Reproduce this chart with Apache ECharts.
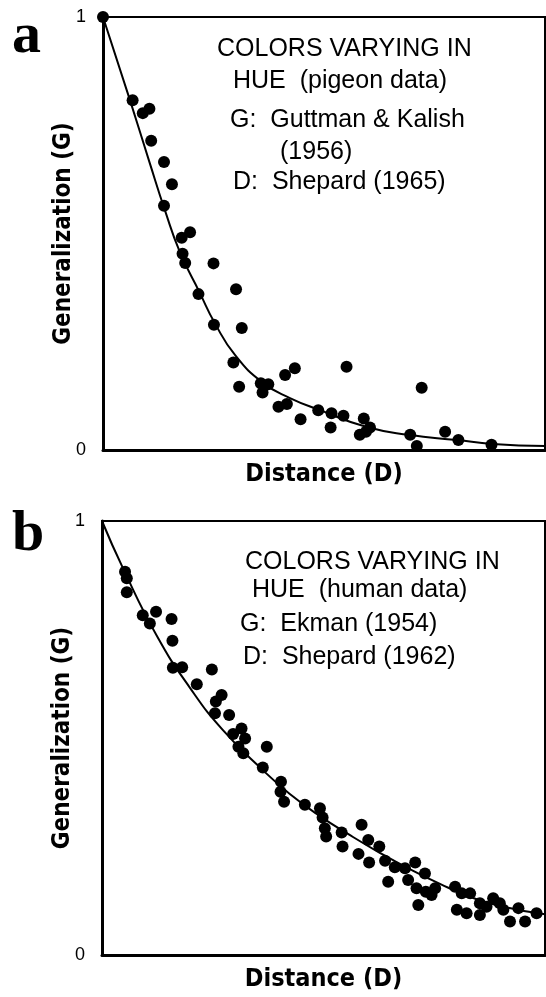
<!DOCTYPE html>
<html>
<head>
<meta charset="utf-8">
<script src="https://cdn.jsdelivr.net/npm/echarts@6.0.0/dist/echarts.min.js"></script>
<style>
  html, body { margin: 0; padding: 0; background: #fff; }
  #chart { width: 546px; height: 997px; }
</style>
</head>
<body>
<div id="chart"></div>
<script>
// panel a: pigeon data (Guttman & Kalish 1956)
const aDist = [0, 0.067, 0.090, 0.105, 0.109, 0.138, 0.156, 0.138, 0.178, 0.197, 0.180, 0.186, 0.250, 0.216, 0.301, 0.251, 0.314, 0.295, 0.308, 0.357, 0.374, 0.361, 0.412, 0.434, 0.397, 0.416, 0.447, 0.487, 0.517, 0.515, 0.544, 0.551, 0.590, 0.604, 0.581, 0.595, 0.695, 0.710, 0.721, 0.774, 0.804, 0.879];
const aGen = [1.0, 0.808, 0.778, 0.788, 0.714, 0.665, 0.614, 0.564, 0.490, 0.503, 0.453, 0.432, 0.431, 0.360, 0.371, 0.289, 0.282, 0.202, 0.146, 0.154, 0.152, 0.133, 0.173, 0.189, 0.100, 0.106, 0.071, 0.092, 0.085, 0.052, 0.079, 0.192, 0.073, 0.052, 0.035, 0.042, 0.035, 0.009, 0.144, 0.042, 0.023, 0.012];
// fitted curve a
const aCurveDist = [0, 0.061, 0.106, 0.140, 0.174, 0.219, 0.253, 0.299, 0.362, 0.423, 0.491, 0.597, 0.692, 0.801, 0.882, 1.0];
const aCurveGen = [1.0, 0.808, 0.662, 0.554, 0.457, 0.363, 0.293, 0.219, 0.155, 0.120, 0.092, 0.053, 0.035, 0.023, 0.014, 0.009];

// panel b: human data (Ekman 1954)
const bDist = [0.052, 0.056, 0.056, 0.092, 0.122, 0.108, 0.157, 0.159, 0.160, 0.181, 0.248, 0.214, 0.257, 0.270, 0.255, 0.287, 0.315, 0.296, 0.323, 0.308, 0.372, 0.319, 0.363, 0.404, 0.403, 0.411, 0.458, 0.492, 0.498, 0.503, 0.506, 0.541, 0.543, 0.586, 0.601, 0.626, 0.579, 0.603, 0.639, 0.661, 0.646, 0.684, 0.707, 0.729, 0.691, 0.710, 0.731, 0.752, 0.744, 0.714, 0.797, 0.812, 0.831, 0.801, 0.823, 0.853, 0.853, 0.883, 0.898, 0.906, 0.921, 0.940, 0.955, 0.981, 0.868];
const bGen = [0.883, 0.868, 0.836, 0.783, 0.791, 0.764, 0.774, 0.724, 0.662, 0.663, 0.658, 0.624, 0.584, 0.599, 0.557, 0.553, 0.522, 0.509, 0.499, 0.480, 0.480, 0.465, 0.432, 0.399, 0.376, 0.353, 0.346, 0.338, 0.317, 0.292, 0.273, 0.282, 0.250, 0.300, 0.265, 0.250, 0.233, 0.213, 0.217, 0.202, 0.169, 0.200, 0.213, 0.188, 0.173, 0.154, 0.146, 0.154, 0.138, 0.115, 0.157, 0.142, 0.142, 0.104, 0.096, 0.119, 0.092, 0.131, 0.119, 0.104, 0.077, 0.108, 0.077, 0.096, 0.111];
const bCurveDist = [0, 0.047, 0.124, 0.199, 0.273, 0.363, 0.424, 0.492, 0.560, 0.628, 0.695, 0.763, 0.831, 0.898, 1.0];
const bCurveGen = [1.0, 0.892, 0.735, 0.615, 0.518, 0.426, 0.371, 0.320, 0.276, 0.235, 0.198, 0.164, 0.134, 0.113, 0.094];

const yTicks = ['0', '1'];
const notesA = ['COLORS VARYING IN', 'HUE  (pigeon data)', 'G:  Guttman & Kalish', '(1956)', 'D:  Shepard (1965)'];
const notesB = ['COLORS VARYING IN', 'HUE  (human data)', 'G:  Ekman (1954)', 'D:  Shepard (1962)'];

const zip = (xs, ys) => xs.map((x, i) => [x, ys[i]]);

const axisFont = 'DejaVu Sans Condensed';
const noteFont = 'Liberation Sans';

function xAx(idx) {
  return {
    type: 'value', gridIndex: idx, min: 0, max: 1,
    axisLine: { show: true, lineStyle: { color: '#000', width: 3 } },
    axisTick: { show: false }, axisLabel: { show: false }, splitLine: { show: false },
    name: 'Distance (D)', nameLocation: 'middle', nameGap: 12,
    nameTextStyle: { fontFamily: axisFont, fontWeight: 'bold', fontSize: 25, color: '#000', verticalAlign: 'top' }
  };
}
function yAx(idx) {
  return {
    type: 'value', gridIndex: idx, min: 0, max: 1, interval: 1,
    axisLine: { show: true, lineStyle: { color: '#000', width: 3 } },
    axisTick: { show: false }, splitLine: { show: false },
    axisLabel: { color: '#000', fontSize: 18, fontFamily: noteFont, margin: 17,
      formatter: v => yTicks[v] },
    name: 'Generalization (G)', nameLocation: 'middle', nameGap: 27, nameMoveOverlap: false,
    nameTextStyle: { fontFamily: axisFont, fontWeight: 'bold', fontSize: 24, color: '#000' }
  };
}

function noteTexts(lines, xs, ys) {
  return lines.map((t, i) => ({
    type: 'text', left: xs[i], top: ys[i],
    style: { text: t, font: '25px ' + noteFont, fill: '#000', textVerticalAlign: 'middle' }
  }));
}

const chart = echarts.init(document.getElementById('chart'));
chart.setOption({
  animation: false,
  backgroundColor: '#fff',
  grid: [
    { left: 103, top: 17, width: 442, height: 433, show: true, borderColor: '#000', borderWidth: 2 },
    { left: 102, top: 521, width: 443, height: 434, show: true, borderColor: '#000', borderWidth: 2 }
  ],
  xAxis: [xAx(0), xAx(1)],
  yAxis: [yAx(0), yAx(1)],
  graphic: [
    { type: 'text', left: 12, top: 8, style: { text: 'a', font: 'bold 58px "Liberation Serif"', fill: '#000' } },
    { type: 'text', left: 12, top: 506, style: { text: 'b', font: 'bold 58px "Liberation Serif"', fill: '#000' } }
  ]
    .concat(noteTexts(notesA, [217, 233, 230, 280, 233], [37, 69, 108, 140, 170]))
    .concat(noteTexts(notesB, [245, 252, 240, 243], [550, 578, 612, 645])),
  series: [
    { type: 'line', xAxisIndex: 0, yAxisIndex: 0, data: zip(aCurveDist, aCurveGen), smooth: true,
      showSymbol: false, lineStyle: { color: '#000', width: 2 } },
    { type: 'scatter', xAxisIndex: 0, yAxisIndex: 0, data: zip(aDist, aGen), symbolSize: 12,
      itemStyle: { color: '#000', opacity: 1 }, clip: false },
    { type: 'line', xAxisIndex: 1, yAxisIndex: 1, data: zip(bCurveDist, bCurveGen), smooth: true,
      showSymbol: false, lineStyle: { color: '#000', width: 2 } },
    { type: 'scatter', xAxisIndex: 1, yAxisIndex: 1, data: zip(bDist, bGen), symbolSize: 12,
      itemStyle: { color: '#000', opacity: 1 }, clip: false }
  ]
});
</script>
</body>
</html>
